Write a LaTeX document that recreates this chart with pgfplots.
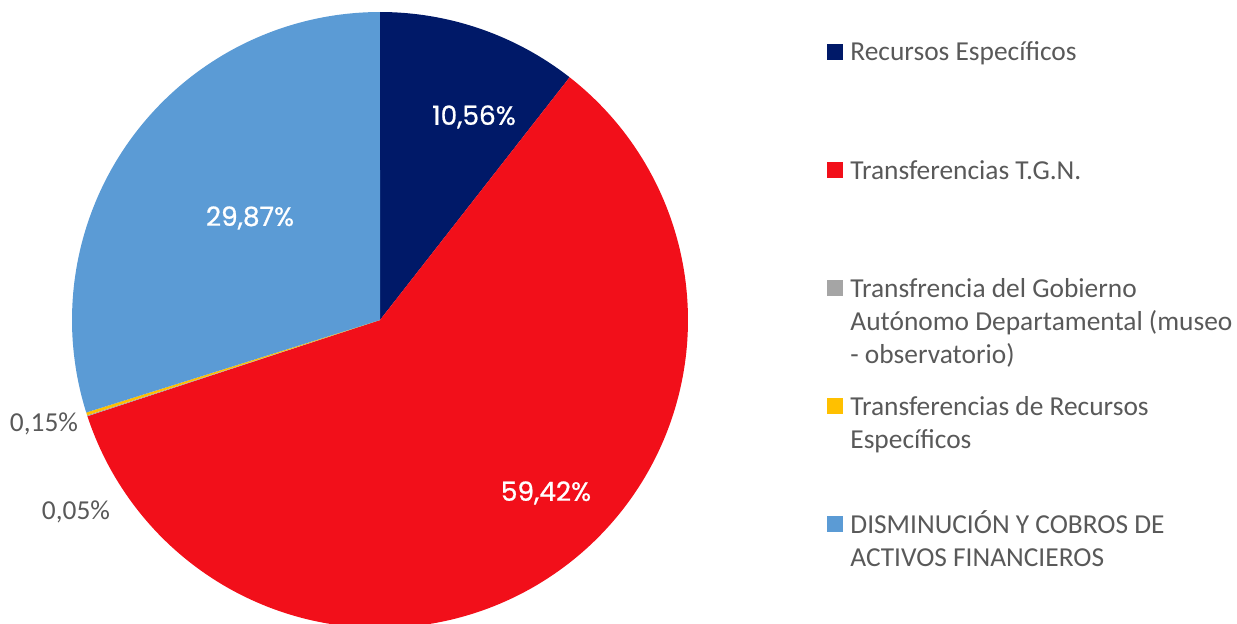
\documentclass[border=0pt]{standalone}
\usepackage{pgfplots}
\pgfplotsset{compat=1.18}
\usepackage{fontspec}
\setmainfont{Carlito}
\newfontfamily\labfont{Poppins}[FakeBold=0.8]
\definecolor{cRE}{RGB}{0,25,104}
\definecolor{cTGN}{RGB}{242,15,26}
\definecolor{cGAD}{RGB}{165,165,165}
\definecolor{cTRE}{RGB}{255,192,0}
\definecolor{cDIS}{RGB}{91,155,213}
\definecolor{txt}{RGB}{89,89,89}
% slice values (%)
\def\vA{10.56}
\def\vB{59.42}
\def\vC{0.05}
\def\vD{0.15}
\def\vE{29.87}
\pgfmathsetmacro\tot{\vA+\vB+\vC+\vD+\vE}
\pgfmathsetmacro\aA{0}
\pgfmathsetmacro\aB{\vA/\tot*360}
\pgfmathsetmacro\aC{(\vA+\vB)/\tot*360}
\pgfmathsetmacro\aD{(\vA+\vB+\vC)/\tot*360}
\pgfmathsetmacro\aE{(\vA+\vB+\vC+\vD)/\tot*360}
\pgfmathsetmacro\aF{360}
\def\cx{380}
\def\cy{303}
\def\rr{308}
\begin{document}
\begin{tikzpicture}
\useasboundingbox (0,0) rectangle (618.5pt,311.5pt);
\begin{axis}[
  at={(0,0)}, anchor=south west,
  x=0.5pt, y=0.5pt, scale only axis,
  xmin=0, xmax=1237, ymin=0, ymax=623,
  hide axis, clip=true,
]
\addplot[fill=cRE, draw=none, domain=\aA:\aB, samples=60, variable=\t]
  ({\cx+\rr*sin(t)},{\cy+\rr*cos(t)}) -- (axis cs:\cx,\cy) -- cycle;
\addplot[fill=cTGN, draw=none, domain=\aB:\aC, samples=200, variable=\t]
  ({\cx+\rr*sin(t)},{\cy+\rr*cos(t)}) -- (axis cs:\cx,\cy) -- cycle;
\addplot[fill=cGAD, draw=none, domain=\aC:\aD, samples=3, variable=\t]
  ({\cx+\rr*sin(t)},{\cy+\rr*cos(t)}) -- (axis cs:\cx,\cy) -- cycle;
\addplot[fill=cTRE, draw=none, domain=\aD:\aE, samples=3, variable=\t]
  ({\cx+\rr*sin(t)},{\cy+\rr*cos(t)}) -- (axis cs:\cx,\cy) -- cycle;
\addplot[fill=cDIS, draw=none, domain=\aE:\aF, samples=120, variable=\t]
  ({\cx+\rr*sin(t)},{\cy+\rr*cos(t)}) -- (axis cs:\cx,\cy) -- cycle;

% data labels
\node[white, font=\labfont\fontsize{13.2}{15}\selectfont] at (axis cs:474,506) {10,56\%};
\node[white, font=\labfont\fontsize{13.2}{15}\selectfont] at (axis cs:546,130) {59,42\%};
\node[white, font=\labfont\fontsize{13.2}{15}\selectfont] at (axis cs:250,405) {29,87\%};
\node[txt, font=\fontsize{13.7}{16}\selectfont] at (axis cs:44,199) {0,15\%};
\node[txt, font=\fontsize{13.7}{16}\selectfont] at (axis cs:76,111) {0,05\%};

% legend
\begin{scope}[every node/.style={txt, anchor=base west, inner sep=0pt, font=\fontsize{13.7}{16}\selectfont}]
\fill[cRE]  (axis cs:827,623-60)  rectangle (axis cs:843,623-44);
\node at (axis cs:850,623-61) {Recursos Específicos};
\fill[cTGN] (axis cs:827,623-178) rectangle (axis cs:843,623-162);
\node at (axis cs:850,623-179) {Transferencias T.G.N.};
\fill[cGAD] (axis cs:827,623-296) rectangle (axis cs:843,623-280);
\node at (axis cs:850,623-297) {Transfrencia del Gobierno};
\node at (axis cs:850,623-330) {Autónomo Departamental (museo};
\node at (axis cs:850,623-363) {- observatorio)};
\fill[cTRE] (axis cs:827,623-414) rectangle (axis cs:843,623-398);
\node at (axis cs:850,623-415) {Transferencias de Recursos};
\node at (axis cs:850,623-448) {Específicos};
\fill[cDIS] (axis cs:827,623-532) rectangle (axis cs:843,623-516);
\node at (axis cs:850,623-533) {DISMINUCIÓN Y COBROS DE};
\node at (axis cs:850,623-566) {ACTIVOS FINANCIEROS};
\end{scope}
\end{axis}
\end{tikzpicture}
\end{document}
